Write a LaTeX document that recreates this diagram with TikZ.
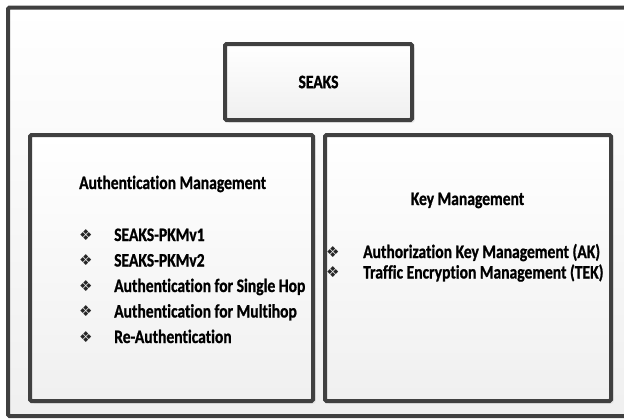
\documentclass[tikz,border=0pt]{standalone}
\usepackage{fontspec}
\setmainfont{Carlito}[FakeStretch=0.82,Ligatures=NoCommon,BoldFeatures={FakeBold=0.9}]
\newfontfamily\dingfont{DejaVu Sans}
\usepackage{tikz}
\usetikzlibrary{shadows}
\usetikzlibrary{positioning}
\definecolor{framegray}{RGB}{64,64,64}
\tikzstyle{frame}=[draw=framegray,line width=4pt,rounded corners=1.5pt,top color=white,bottom color=black!6]
\tikzstyle{panel}=[frame,drop shadow={shadow xshift=2.5pt,shadow yshift=-2.5pt,fill=black!12,opacity=0.8}]
\tikzstyle{label}=[font=\fontsize{19}{23}\selectfont\bfseries,inner sep=0pt]
\tikzstyle{bullet}=[font=\dingfont\fontsize{15}{17}\selectfont,inner sep=0pt,text=black!85]

\begin{document}
\begin{tikzpicture}[x=1pt,y=-1pt]
    \useasboundingbox (0,0) rectangle (624,418);
    \clip (0,0) rectangle (624,418);
    % outer frame, cut at the right side
    \draw[frame] (8,7.5) rectangle (634,416);

    % the three boxes
    \node[panel,minimum width=187pt,minimum height=76pt] (seaks) at (318.5,82) {};
    \node[panel,minimum width=283pt,minimum height=266pt] (auth) at (171.5,268) {};
    \node[panel,minimum width=286pt,minimum height=266pt] (key) at (468,268) {};
    \node[label] (seakstxt) at (seaks) {SEAKS};

    % left box
    \node[label,anchor=base west] (authhead) at (79,189) {Authentication Management};
    \foreach \ypos/\name/\txt in {241/a1/SEAKS-PKMv1, 266.5/a2/SEAKS-PKMv2, 292/a3/Authentication for Single Hop, 317.5/a4/Authentication for Multihop, 343/a5/Re-Authentication}
    {
        \node[bullet,anchor=base west] (\name b) at (79,\ypos-1) {❖};
        \node[label,anchor=base west] (\name) at (114,\ypos) {\txt};
    }

    % right box
    \node[label,anchor=base] (keyhead) at (467.5,205) {Key Management};
    \foreach \ypos/\name/\txt in {258/k1/Authorization Key Management (AK), 278.5/k2/Traffic Encryption Management (TEK)}
    {
        \node[bullet,anchor=base west] (\name b) at (326,\ypos-1) {❖};
        \node[label,anchor=base west] (\name) at (363,\ypos) {\txt};
    }
\end{tikzpicture}
\end{document}
